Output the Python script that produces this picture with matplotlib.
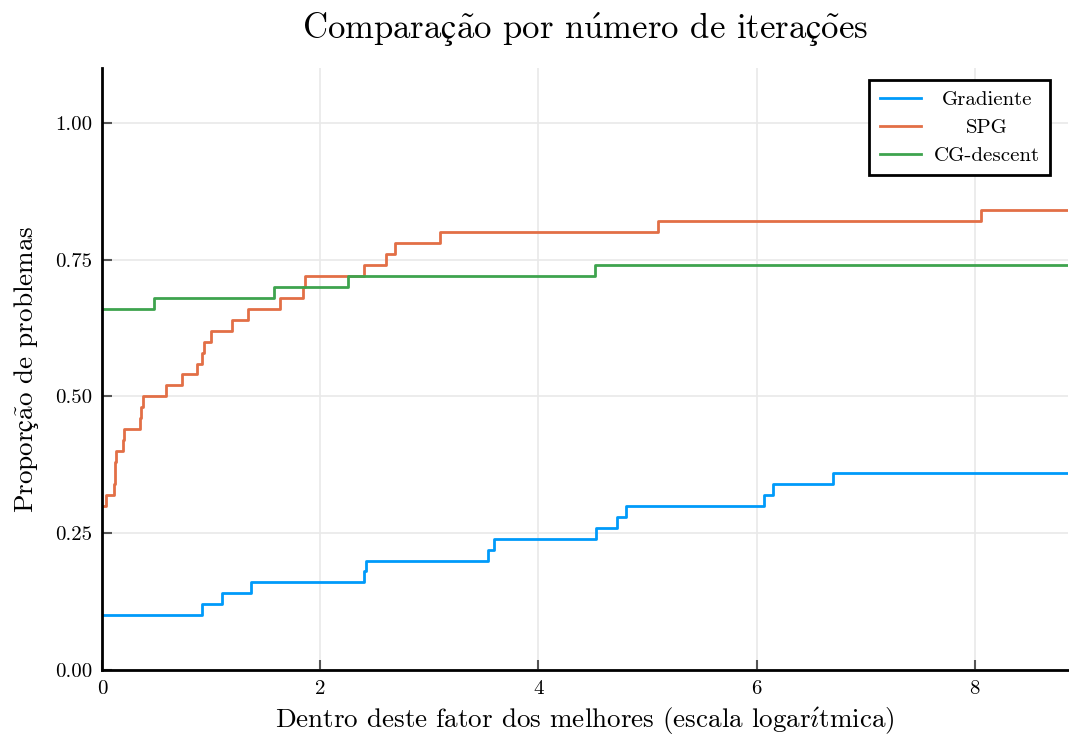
import matplotlib
matplotlib.use("Agg")
import matplotlib.pyplot as plt
import numpy as np

# Data (performance profile, step functions: value holds from x onwards)
grad_x = [0.0, 0.918, 1.10, 1.365, 2.40, 2.42, 3.54, 3.59, 4.53, 4.72, 4.80, 6.07, 6.15, 6.70]
grad_y = [0.10, 0.12, 0.14, 0.16, 0.18, 0.20, 0.22, 0.24, 0.26, 0.28, 0.30, 0.32, 0.34, 0.36]

spg_x = [0.0, 0.034, 0.11, 0.115, 0.12, 0.13, 0.19, 0.20, 0.345, 0.355, 0.375, 0.583, 0.736,
         0.873, 0.918, 0.937, 0.995, 1.19, 1.34, 1.636, 1.844, 1.865, 2.40, 2.60, 2.69, 3.10,
         5.10, 8.055]
spg_y = [0.30, 0.32, 0.34, 0.36, 0.38, 0.40, 0.42, 0.44, 0.46, 0.48, 0.50, 0.52, 0.54,
         0.56, 0.58, 0.60, 0.62, 0.64, 0.66, 0.68, 0.70, 0.72, 0.74, 0.76, 0.78, 0.80,
         0.82, 0.84]

cg_x = [0.0, 0.476, 1.58, 2.256, 4.515]
cg_y = [0.66, 0.68, 0.70, 0.72, 0.74]

series_names = ["Gradiente", "SPG", "CG-descent"]
colors = ["#009AFA", "#E26F46", "#3EA44E"]

x_max = 8.855
y_max = 1.1
x_ticks = [0, 2, 4, 6, 8]
y_ticks = [0.0, 0.25, 0.5, 0.75, 1.0]

title = "Comparação por número de iterações"
xlabel = "Dentro deste fator dos melhores (escala logarítmica)"
ylabel = "Proporção de problemas"

plt.rcParams['font.family'] = ['cmr10', 'STIXGeneral']
plt.rcParams['axes.formatter.use_mathtext'] = True
plt.rcParams['mathtext.fontset'] = 'cm'
plt.rcParams['xtick.labelsize'] = 15
plt.rcParams['ytick.labelsize'] = 15


def cm_text(s):
    """Render accented letters with Computer Modern accents via mathtext."""
    rep = {
        "ã": r"$\mathrm{\tilde{a}}$",
        "õ": r"$\mathrm{\tilde{o}}$",
        "ú": r"$\mathrm{\acute{u}}$",
        "í": r"$\mathrm{\acute{\imath}}$",
        "ç": r"$\mathrm{ç}$",
    }
    return "".join(rep.get(ch, ch) for ch in s)


fig = plt.figure(figsize=(10.69, 7.37), dpi=100)
ax = fig.add_axes([102/1069, (737-670)/737, (1068-102)/1069, (670-68)/737])

for xs, ys, name, c in zip([grad_x, spg_x, cg_x], [grad_y, spg_y, cg_y], series_names, colors):
    xx = list(xs) + [x_max]
    yy = list(ys) + [ys[-1]]
    ax.step(xx, yy, where='post', color=c, lw=2.0, label=name)

ax.set_xlim(0, x_max)
ax.set_ylim(0, y_max)
ax.tick_params(direction='in', length=7, width=1.5, color='#555555', pad=7, labelsize=15)
ax.set_xticks(x_ticks)
ax.set_yticks(y_ticks)
ax.set_xticklabels([str(t) for t in x_ticks], fontsize=15)
ax.set_yticklabels([f"{t:.2f}" for t in y_ticks], fontsize=15)
ax.grid(True, color="#e9e9e9", lw=1.2)
ax.set_axisbelow(True)
for s in ['top', 'right']:
    ax.spines[s].set_visible(False)
for s in ['left', 'bottom']:
    ax.spines[s].set_linewidth(2.0)
    ax.spines[s].set_color('black')

ax.set_title(cm_text(title), fontsize=25, pad=21)
ax.set_xlabel(cm_text(xlabel), fontsize=19.5, labelpad=6)
ax.set_ylabel(cm_text(ylabel), fontsize=19.5, labelpad=10)

leg = ax.legend(loc='upper right', fontsize=15, frameon=True, fancybox=False,
                edgecolor='black', borderpad=0.5, handlelength=2.0, handletextpad=0.6,
                labelspacing=0.45, bbox_to_anchor=(0.9815, 0.9800), borderaxespad=0.0,
                framealpha=1.0)
leg.get_frame().set_linewidth(2.0)

# center the legend labels within their column
fig.canvas.draw()
renderer = fig.canvas.get_renderer()
texts = leg.get_texts()
widths = [t.get_window_extent(renderer).width for t in texts]
wmax = max(widths)
for t, w in zip(texts, widths):
    t.set_x((wmax - w) / 2.0)

fig.savefig("out.png", dpi=100)
